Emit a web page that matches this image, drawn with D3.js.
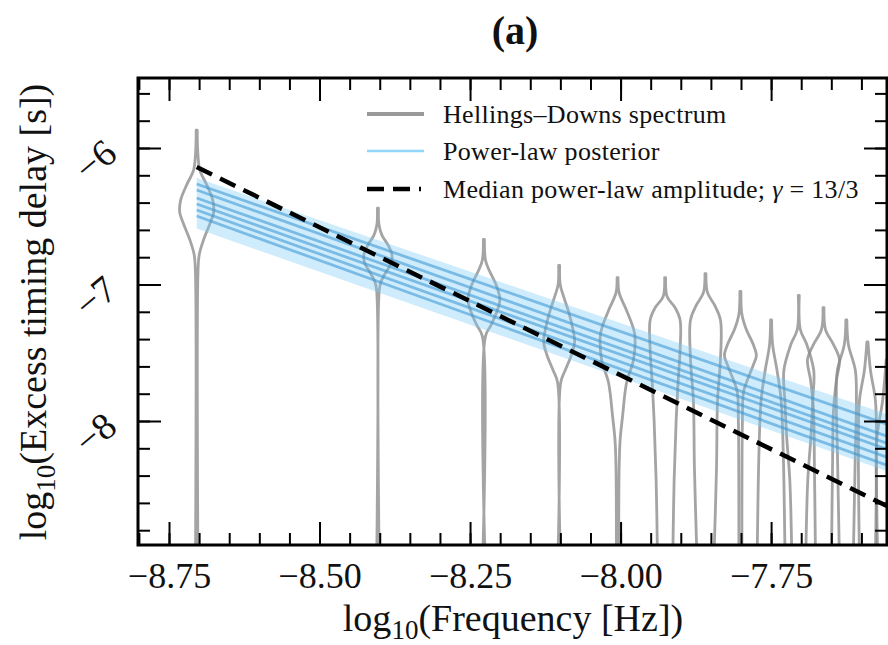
<!DOCTYPE html>
<html><head><meta charset="utf-8">
<script src="https://cdn.jsdelivr.net/npm/d3@7"></script>
<style>
body{margin:0;background:#fff}
svg{display:block}
text{font-family:"Liberation Serif","Times New Roman",serif;fill:#111}
</style>
</head><body>
<svg id="c" width="888" height="645"></svg>
<script>
// ---------- data ----------
const freqs = [-8.704, -8.403, -8.227, -8.102, -8.005, -7.926, -7.859, -7.801, -7.750, -7.704, -7.663, -7.625, -7.590, -7.558];
// violin outlines: [log10 delay, relative half-width]
const violinProfiles = [
  [[-5.87,0.03],[-6.02,0.06],[-6.16,0.18],[-6.27,0.59],[-6.38,0.94],[-6.47,1.0],[-6.56,0.76],[-6.67,0.41],[-6.78,0.15],[-6.89,0.08],[-9.0,0.07]],
  [[-6.44,0.03],[-6.56,0.06],[-6.64,0.24],[-6.71,0.59],[-6.78,0.82],[-6.84,0.79],[-6.91,0.47],[-6.98,0.18],[-7.04,0.08],[-9.0,0.07]],
  [[-6.67,0.03],[-6.82,0.09],[-6.89,0.29],[-7.00,0.71],[-7.11,0.94],[-7.20,0.76],[-7.30,0.41],[-7.38,0.09],[-9.0,0.07]],
  [[-6.86,0.03],[-7.00,0.06],[-7.08,0.24],[-7.19,0.53],[-7.30,0.76],[-7.42,0.91],[-7.52,0.71],[-7.63,0.35],[-7.72,0.09],[-9.0,0.07]],
  [[-6.95,0.03],[-7.06,0.09],[-7.19,0.53],[-7.36,1.0],[-7.55,0.94],[-7.72,0.53],[-7.97,0.29],[-8.14,0.15],[-8.36,0.09],[-9.0,0.07]],
  [[-6.95,0.03],[-7.09,0.12],[-7.17,0.59],[-7.26,0.88],[-7.48,0.88],[-7.72,0.76],[-7.99,0.65],[-8.43,0.53],[-9.0,0.45]],
  [[-6.92,0.03],[-7.06,0.12],[-7.15,0.53],[-7.26,0.88],[-7.55,0.88],[-7.85,0.71],[-8.34,0.65],[-9.0,0.5]],
  [[-7.05,0.03],[-7.22,0.09],[-7.33,0.35],[-7.44,0.76],[-7.52,0.94],[-7.59,0.76],[-7.70,0.41],[-7.79,0.18],[-7.99,0.12],[-9.0,0.09]],
  [[-7.26,0.03],[-7.44,0.09],[-7.63,0.35],[-7.85,0.59],[-8.21,0.71],[-9.0,0.82]],
  [[-7.08,0.03],[-7.33,0.09],[-7.44,0.47],[-7.63,0.88],[-7.85,0.82],[-8.12,0.71],[-8.43,0.53],[-9.0,0.41]],
  [[-7.17,0.03],[-7.33,0.12],[-7.44,0.59],[-7.55,0.94],[-7.70,0.76],[-7.92,0.59],[-8.36,0.53],[-9.0,0.47]],
  [[-7.26,0.03],[-7.44,0.12],[-7.63,0.53],[-7.85,0.59],[-8.21,0.53],[-9.0,0.41]],
  [[-7.42,0.03],[-7.63,0.18],[-7.85,0.47],[-8.21,0.53],[-9.0,0.47]],
  [[-7.55,0.03],[-7.85,0.24],[-8.14,0.59],[-8.58,0.59],[-9.0,0.53]]
];
// power-law posterior sample lines: value at start / end frequency
const plFreq = [-8.704, -7.554];
const plStart = [-6.264, -6.308, -6.366, -6.410, -6.454, -6.498];
const plEnd   = [-8.029, -8.117, -8.168, -8.212, -8.271, -8.330];
const bandStart = [-6.22, -6.59];
const bandEnd   = [-7.956, -8.374];
// median power-law (gamma = 13/3)
const medianFreq = [-8.704, -7.554];
const medianVal  = [-6.139, -8.631];
// axes
const xMajor = [-8.75, -8.50, -8.25, -8.00, -7.75];
const xTickLabels = ["\u22128.75", "\u22128.50", "\u22128.25", "\u22128.00", "\u22127.75"];
const yMajor = [-6, -7, -8];
const yTickLabels = ["\u22126", "\u22127", "\u22128"];
const legendLabels = ["Hellings\u2013Downs spectrum", "Power-law posterior", "Median power-law amplitude; "];

// ---------- layout ----------
const L = 138, R = 887, T = 78, B = 545;
const x = d3.scaleLinear().domain([-8.8015, -7.5575]).range([L, R]);
const y = d3.scaleLinear().domain([-8.9084, -5.4872]).range([B, T]);
const W = 17;
const svg = d3.select("#c");
svg.append("rect").attr("width", 888).attr("height", 645).attr("fill", "#fff");

svg.append("defs").append("clipPath").attr("id", "clip")
  .append("rect").attr("x", L).attr("y", T).attr("width", R - L).attr("height", B - T);
const plot = svg.append("g").attr("clip-path", "url(#clip)");

// violins
const area = d3.area()
  .y(d => y(d[0]))
  .curve(d3.curveCatmullRom);
violinProfiles.forEach((prof, i) => {
  const cx = x(freqs[i]);
  plot.append("path")
    .attr("d", area.x0(d => cx - d[1] * W).x1(d => cx + d[1] * W)(prof))
    .attr("fill", "none")
    .attr("stroke", "#8a8a8a")
    .attr("stroke-opacity", 0.78)
    .attr("stroke-width", 2.8)
    .attr("stroke-linejoin", "round");
});

// posterior band
plot.append("path")
  .datum([[plFreq[0], bandStart], [plFreq[1], bandEnd]])
  .attr("d", d3.area().x(d => x(d[0])).y0(d => y(d[1][1])).y1(d => y(d[1][0])))
  .attr("fill", "#7fcdf7").attr("fill-opacity", 0.38);
plStart.forEach((v0, i) => {
  plot.append("path")
    .datum([[plFreq[0], v0], [plFreq[1], plEnd[i]]])
    .attr("d", d3.line().x(d => x(d[0])).y(d => y(d[1])))
    .attr("stroke", "#3593d4").attr("stroke-opacity", 0.55)
    .attr("stroke-width", 2.8).attr("fill", "none");
});

// median line
plot.append("path")
  .datum(medianFreq.map((f, i) => [f, medianVal[i]]))
  .attr("d", d3.line().x(d => x(d[0])).y(d => y(d[1])))
  .attr("stroke", "#000").attr("stroke-width", 4.5)
  .attr("stroke-dasharray", "17,9").attr("fill", "none");

// ---------- axes ----------
const minorX = d3.range(-8.80, -7.55, 0.05).map(v => +v.toFixed(2));
const minorY = d3.range(-5.6, -8.95, -0.2).map(v => +v.toFixed(1));

function styleAxis(g) {
  g.select(".domain").remove();
  g.selectAll(".tick line").attr("stroke", "#000").attr("stroke-width", 2);
}
// bottom
const gB = svg.append("g").attr("transform", `translate(0,${B})`)
  .call(d3.axisBottom(x).tickValues(xMajor).tickSize(-23).tickFormat((d, i) => xTickLabels[i]));
styleAxis(gB);
gB.selectAll(".tick text").attr("y", 43).attr("dy", null)
  .attr("font-size", 36).attr("fill", "#111").attr("font-family", "Liberation Serif");
svg.append("g").attr("transform", `translate(0,${B})`)
  .call(d3.axisBottom(x).tickValues(minorX).tickSize(-12).tickFormat("")).call(styleAxis);
// top
svg.append("g").attr("transform", `translate(0,${T})`)
  .call(d3.axisTop(x).tickValues(xMajor).tickSize(-23).tickFormat("")).call(styleAxis);
svg.append("g").attr("transform", `translate(0,${T})`)
  .call(d3.axisTop(x).tickValues(minorX).tickSize(-12).tickFormat("")).call(styleAxis);
// left
const gL = svg.append("g").attr("transform", `translate(${L},0)`)
  .call(d3.axisLeft(y).tickValues(yMajor).tickSize(-23).tickFormat((d, i) => yTickLabels[i]));
styleAxis(gL);
gL.selectAll(".tick text").attr("x", null).attr("dy", null)
  .attr("text-anchor", "end")
  .attr("transform", `translate(${119 - L},8.5) rotate(-40)`)
  .attr("font-size", 38).attr("fill", "#111").attr("font-family", "Liberation Serif");
svg.append("g").attr("transform", `translate(${L},0)`)
  .call(d3.axisLeft(y).tickValues(minorY).tickSize(-12).tickFormat("")).call(styleAxis);
// right
svg.append("g").attr("transform", `translate(${R},0)`)
  .call(d3.axisRight(y).tickValues(yMajor).tickSize(-23).tickFormat("")).call(styleAxis);
svg.append("g").attr("transform", `translate(${R},0)`)
  .call(d3.axisRight(y).tickValues(minorY).tickSize(-12).tickFormat("")).call(styleAxis);

// frame
svg.append("rect").attr("x", L).attr("y", T).attr("width", R - L).attr("height", B - T)
  .attr("fill", "none").attr("stroke", "#000").attr("stroke-width", 3);

// ---------- labels ----------
svg.append("text").attr("x", 515).attr("y", 44).attr("text-anchor", "middle")
  .attr("font-size", 40).attr("font-weight", "bold").text("(a)");

const xl = svg.append("text").attr("x", 513).attr("y", 631).attr("text-anchor", "middle").attr("font-size", 38);
xl.append("tspan").text("log");
xl.append("tspan").attr("dy", 8).attr("font-size", 27).text("10");
xl.append("tspan").attr("dy", -8).text("(Frequency [Hz])");

const yl = svg.append("text").attr("transform", "translate(46,312) rotate(-90)").attr("text-anchor", "middle").attr("font-size", 38);
yl.append("tspan").text("log");
yl.append("tspan").attr("dy", 9).attr("font-size", 27).text("10");
yl.append("tspan").attr("dy", -9).text("(Excess timing delay [s])");

// ---------- legend ----------
const lg = svg.append("g");
const rowsY = [114, 151, 189];
lg.append("line").attr("x1", 367).attr("x2", 424).attr("y1", rowsY[0]).attr("y2", rowsY[0])
  .attr("stroke", "#999").attr("stroke-width", 4);
lg.append("line").attr("x1", 367).attr("x2", 424).attr("y1", rowsY[1]).attr("y2", rowsY[1])
  .attr("stroke", "#8fd6fa").attr("stroke-width", 2.5);
lg.append("line").attr("x1", 367).attr("x2", 421).attr("y1", rowsY[2]).attr("y2", rowsY[2])
  .attr("stroke", "#000").attr("stroke-width", 4.5).attr("stroke-dasharray", "17,9");
legendLabels.forEach((t, i) => {
  const tx = lg.append("text").attr("x", 443).attr("y", rowsY[i] + 9).attr("font-size", 26)
    .attr("letter-spacing", 0.3).attr("fill", "#222").text(t);
  if (i === 2) {
    tx.append("tspan").attr("font-style", "italic").text("\u03b3");
    tx.append("tspan").text(" = 13/3");
  }
});
</script>
</body></html>
